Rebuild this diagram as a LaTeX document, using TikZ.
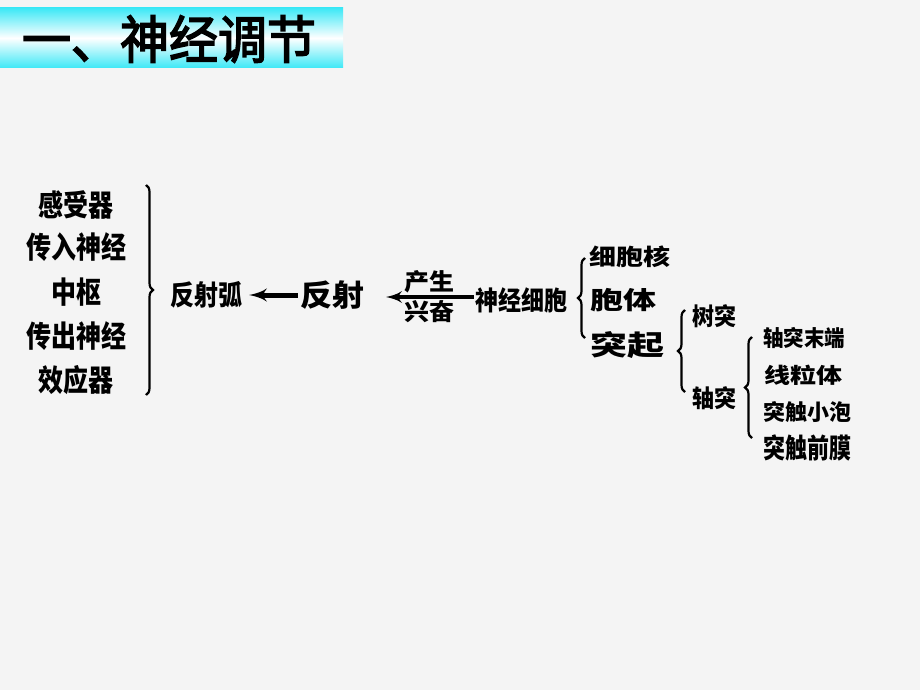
\documentclass[tikz,border=0pt]{standalone}
\usepackage{fontspec}
\usepackage{tikz}
\usetikzlibrary{positioning}
\usetikzlibrary{arrows}
\usetikzlibrary{decorations.pathreplacing}
\newfontfamily\cjk{Noto Sans CJK SC}
\newfontfamily\titlefont[FakeBold=3]{Noto Sans CJK SC}
\definecolor{paper}{RGB}{244,244,244}
\definecolor{titlecyan}{RGB}{60,232,246}
\newcommand{\fs}[1]{\cjk\bfseries\fontsize{#1}{#1}\selectfont}

\begin{document}
\begin{tikzpicture}[x=1pt,y=-1pt]
		\tikzset{pointer/.style = {-latex', line width=5pt}}
		\tikzset{word/.style 2 args = {inner sep=1pt, font=\fs{#1}, yscale=#2}}
		\tikzset{brace/.style = {decorate, decoration={brace, amplitude=7pt}, line width=2.2pt}}
		\fill[paper] (0,0) rectangle (920,690);
		\useasboundingbox (0,0) rectangle (920,690);
		% title
		\shade[top color=titlecyan, bottom color=titlecyan, middle color=white] (0,8) rectangle (343,68);
		\node[inner sep=0pt, font=\titlefont\fontsize{49}{49}\selectfont, yscale=1.05] (title) at (169,39) {一、神经调节};
		% reflex arc
		\node[word={25}{1.2}] (A) at (76,205) {感受器};
		\node[word={25}{1.2}] (B) at (76,247) {传入神经};
		\node[word={25}{1.2}] (C) at (76,292) {中枢};
		\node[word={25}{1.2}] (D) at (76,336) {传出神经};
		\node[word={25}{1.2}] (E) at (76,380) {效应器};
		\coordinate (arcTop) at (146,185);
		\coordinate (arcBot) at (146,395);
		\draw[brace] (arcTop) -- (arcBot);
		\node[word={24}{1.16}] (arc) at (206,295) {反射弧};
		\node[word={32}{0.94}] (reflex) at (332,295) {反射};
		\draw[pointer, shorten <=1pt, shorten >=6pt] (reflex) -- (arc);
		% neuron
		\node[word={23}{1.15}] (neuron) at (521,300) {神经细胞};
		\coordinate (tip) at (386,297);
		\draw[pointer, line width=4.4pt] (neuron.west |- tip) -- (tip)
			node[midway, above=1pt, word={25}{0.93}] (produce) {产生}
			node[midway, below=1pt, word={25}{0.93}] (excite) {兴奋};
		\coordinate (cellBot) at (585,338);
		\coordinate (cellTop) at (585,258);
		\draw[brace] (cellBot) -- (cellTop);
		\node[word={27}{0.84}] (nucleus) at (630,257) {细胞核};
		\node[word={33}{0.75}] (body) at (623,300) {胞体};
		\node[word={37}{0.75}] (process) at (627,345) {突起};
		% processes
		\coordinate (procBot) at (685,392);
		\coordinate (procTop) at (685,310);
		\draw[brace] (procBot) -- (procTop);
		\node[word={22}{1.1}] (dendrite) at (714,316) {树突};
		\node[word={22}{1.1}] (axon) at (714,398) {轴突};
		\coordinate (axonBot) at (752,438);
		\coordinate (axonTop) at (752,337);
		\draw[brace] (axonBot) -- (axonTop);
		\node[word={20.5}{1.08}] (terminal) at (804,338) {轴突末端};
		\node[word={26}{0.82}] (mito) at (803,375) {线粒体};
		\node[word={22}{1.0}] (vesicle) at (807,412) {突触小泡};
		\node[word={22}{1.25}] (membrane) at (807,448) {突触前膜};
	\end{tikzpicture}
\end{document}
